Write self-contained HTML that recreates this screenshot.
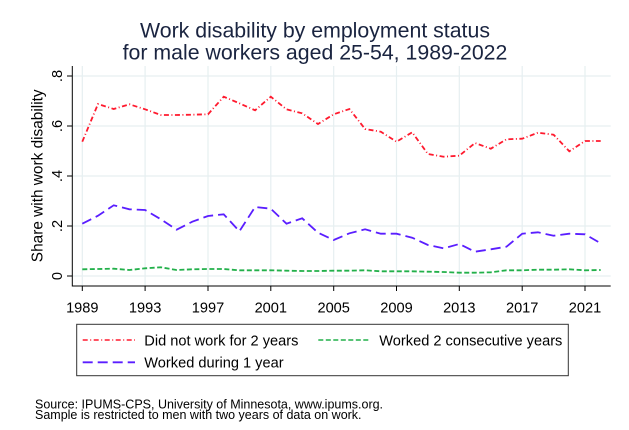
<!DOCTYPE html>
<html>
<head>
<meta charset="utf-8">
<style>
  html, body { margin:0; padding:0; background:#fff; }
  svg { display:block; }
  text { font-family: "Liberation Sans", Arial, sans-serif; }
</style>
</head>
<body>
<svg width="629" height="430" viewBox="0 0 629 430" xmlns="http://www.w3.org/2000/svg">
  <rect width="629" height="430" fill="#fff"/>
  <!-- Title -->
  <text x="315" y="37.3" font-size="21.3" text-anchor="middle" fill="#1a2440">Work disability by employment status</text>
  <text x="315" y="59.3" font-size="21.3" text-anchor="middle" fill="#1a2440">for male workers aged 25-54, 1989-2022</text>

  <!-- gridlines -->
  <g stroke="#e6eff1" stroke-width="1.2">
    <line x1="72.3" y1="76" x2="610.7" y2="76"/>
    <line x1="72.3" y1="126" x2="610.7" y2="126"/>
    <line x1="72.3" y1="176" x2="610.7" y2="176"/>
    <line x1="72.3" y1="226" x2="610.7" y2="226"/>
    <line x1="72.3" y1="276" x2="610.7" y2="276"/>
    <line x1="82.3" y1="66" x2="82.3" y2="286"/>
    <line x1="145.1" y1="66" x2="145.1" y2="286"/>
    <line x1="208.0" y1="66" x2="208.0" y2="286"/>
    <line x1="270.8" y1="66" x2="270.8" y2="286"/>
    <line x1="333.7" y1="66" x2="333.7" y2="286"/>
    <line x1="396.5" y1="66" x2="396.5" y2="286"/>
    <line x1="459.3" y1="66" x2="459.3" y2="286"/>
    <line x1="522.2" y1="66" x2="522.2" y2="286"/>
    <line x1="585.0" y1="66" x2="585.0" y2="286"/>
  </g>

  <!-- axes -->
  <g stroke="#000" stroke-width="1">
    <line x1="72.3" y1="66" x2="72.3" y2="286.5"/>
    <line x1="72" y1="286" x2="610.7" y2="286"/>
    <line x1="67" y1="76" x2="72.3" y2="76"/>
    <line x1="67" y1="126" x2="72.3" y2="126"/>
    <line x1="67" y1="176" x2="72.3" y2="176"/>
    <line x1="67" y1="226" x2="72.3" y2="226"/>
    <line x1="67" y1="276" x2="72.3" y2="276"/>
    <line x1="82.3" y1="286" x2="82.3" y2="291"/>
    <line x1="145.1" y1="286" x2="145.1" y2="291"/>
    <line x1="208.0" y1="286" x2="208.0" y2="291"/>
    <line x1="270.8" y1="286" x2="270.8" y2="291"/>
    <line x1="333.7" y1="286" x2="333.7" y2="291"/>
    <line x1="396.5" y1="286" x2="396.5" y2="291"/>
    <line x1="459.3" y1="286" x2="459.3" y2="291"/>
    <line x1="522.2" y1="286" x2="522.2" y2="291"/>
    <line x1="585.0" y1="286" x2="585.0" y2="291"/>
  </g>

  <!-- y tick labels -->
  <g font-size="14.6" fill="#000" text-anchor="middle">
    <text transform="translate(62,76) rotate(-90)">.8</text>
    <text transform="translate(62,126) rotate(-90)">.6</text>
    <text transform="translate(62,176) rotate(-90)">.4</text>
    <text transform="translate(62,226) rotate(-90)">.2</text>
    <text transform="translate(62,276) rotate(-90)">0</text>
  </g>
  <text transform="translate(42.5,175.8) rotate(-90)" font-size="15.4" text-anchor="middle" fill="#000">Share with work disability</text>

  <!-- x tick labels -->
  <g font-size="14.6" fill="#000" text-anchor="middle">
    <text x="82.3" y="312.3">1989</text>
    <text x="145.1" y="312.3">1993</text>
    <text x="208.0" y="312.3">1997</text>
    <text x="270.8" y="312.3">2001</text>
    <text x="333.7" y="312.3">2005</text>
    <text x="396.5" y="312.3">2009</text>
    <text x="459.3" y="312.3">2013</text>
    <text x="522.2" y="312.3">2017</text>
    <text x="585.0" y="312.3">2021</text>
  </g>

  <!-- series -->
  <polyline fill="none" stroke="#ff1a2e" stroke-width="1.8" stroke-dasharray="5 2.5 1 2.5"
    points="82.3,141.7 98.0,104 113.7,109 129.4,104.3 145.1,109.3 160.9,115 176.6,115 192.3,114.7 208.0,114.3 223.7,96.7 239.4,103.3 255.1,110.3 270.8,96.7 286.5,109.3 302.2,113.3 318.0,124 333.7,114.3 349.4,109 365.1,129 380.8,131.7 396.5,141.7 412.2,132.3 427.9,154 443.6,156.7 459.3,155.7 475.0,143 490.8,148.7 506.5,139.3 522.2,138.7 537.9,132.7 553.6,134.7 569.3,151.3 585.0,141 600.7,141"/>
  <polyline fill="none" stroke="#5a1eff" stroke-width="1.8" stroke-dasharray="10 5"
    points="82.3,223.7 98.0,215.7 113.7,205.3 129.4,209.3 145.1,210 160.9,219.3 176.6,229.7 192.3,221.7 208.0,216 223.7,214.3 239.4,231.3 255.1,207 270.8,208.7 286.5,223.7 302.2,218.3 318.0,232.7 333.7,240 349.4,233.3 365.1,229.3 380.8,233.7 396.5,233.7 412.2,237.7 427.9,245 443.6,248.3 459.3,244 475.0,251.7 490.8,249.3 506.5,246.7 522.2,233.7 537.9,232.3 553.6,235.7 569.3,233.7 585.0,234.3 600.7,243.3"/>
  <polyline fill="none" stroke="#22b04a" stroke-width="1.8" stroke-dasharray="5 2.5"
    points="82.3,269.3 98.0,269 113.7,268.7 129.4,270 145.1,268.3 160.9,267.3 176.6,270 192.3,269.3 208.0,269 223.7,269 239.4,270.3 255.1,270.3 270.8,270.3 286.5,270.7 302.2,271 318.0,271 333.7,270.7 349.4,270.7 365.1,270.3 380.8,271.3 396.5,271.3 412.2,271.3 427.9,271.7 443.6,272 459.3,272.7 475.0,272.7 490.8,272.3 506.5,270.3 522.2,270.3 537.9,269.7 553.6,269.7 569.3,269.3 585.0,270.3 600.7,270"/>

  <!-- legend -->
  <rect x="76.7" y="324.3" width="491.6" height="51.4" fill="#fff" stroke="#333" stroke-width="1"/>
  <line x1="82.7" y1="340" x2="135" y2="340" stroke="#ff1a2e" stroke-width="1.5" stroke-dasharray="5 2.5 1 2.5"/>
  <line x1="318.3" y1="340" x2="370" y2="340" stroke="#22b04a" stroke-width="1.5" stroke-dasharray="5 2.5"/>
  <line x1="82.7" y1="362.3" x2="135" y2="362.3" stroke="#5a1eff" stroke-width="1.8" stroke-dasharray="10 5"/>
  <g font-size="14.6" fill="#000">
    <text x="144.3" y="345.3">Did not work for 2 years</text>
    <text x="379.3" y="345.3">Worked 2 consecutive years</text>
    <text x="144.3" y="367.6">Worked during 1 year</text>
  </g>

  <!-- note -->
  <g font-size="12.5" fill="#000">
    <text x="35" y="408.3">Source: IPUMS-CPS, University of Minnesota, www.ipums.org.</text>
    <text x="35" y="419">Sample is restricted to men with two years of data on work.</text>
  </g>
</svg>
</body>
</html>
